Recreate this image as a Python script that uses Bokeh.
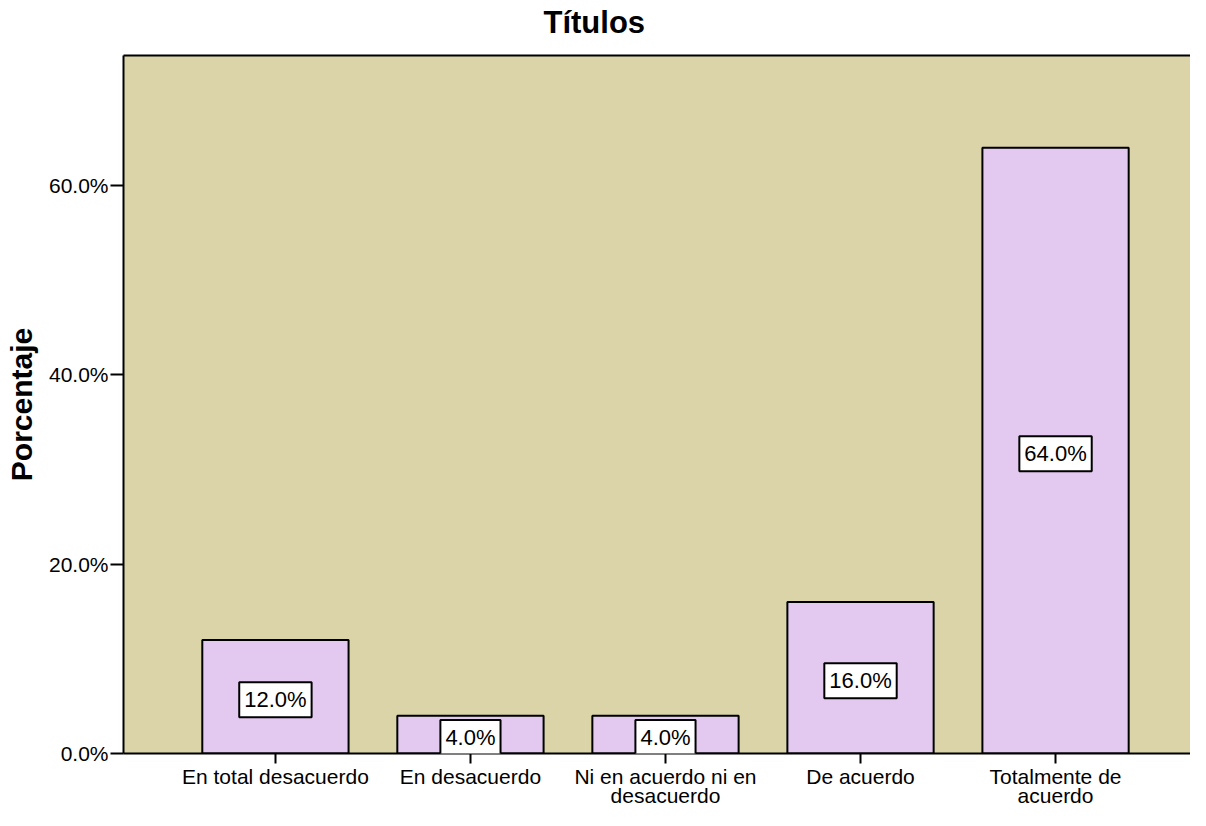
from bokeh.plotting import figure
from bokeh.models import Range1d, FixedTicker, PrintfTickFormatter, LinearAxis, Label, ColumnDataSource
from bokeh.embed import file_html
from bokeh.resources import INLINE

# ---- data ----
title_text = "Títulos"
y_label = "Porcentaje"
categories = ["En total desacuerdo", "En desacuerdo", "Ni en acuerdo ni en desacuerdo",
              "De acuerdo", "Totalmente de acuerdo"]
tick_labels = ["En total desacuerdo", "En desacuerdo", "Ni en acuerdo ni en\ndesacuerdo",
               "De acuerdo", "Totalmente de\nacuerdo"]
values = [12.0, 4.0, 4.0, 16.0, 64.0]
y_ticks = [0, 20, 40, 60]

FONT = "Liberation Sans"
BG = "#DBD4A8"
BAR = "#E3C8F0"

positions = list(range(1, len(categories) + 1))
src = ColumnDataSource(dict(x=positions, top=values, cat=categories))

p = figure(width=1190, height=810, output_backend="svg", toolbar_location=None,
           x_range=Range1d(0.221, 5.692), y_range=Range1d(0, 73.75),
           min_border_left=123, min_border_right=0, min_border_top=55, min_border_bottom=45)

p.background_fill_color = BG
p.border_fill_color = "white"
p.outline_line_color = None
p.xgrid.grid_line_color = None
p.ygrid.grid_line_color = None

p.vbar(x="x", top="top", bottom=0, width=0.75, source=src,
       fill_color=BAR, line_color="black", line_width=2)

# value labels
for x, v in zip(positions, values):
    p.add_layout(Label(x=x, y=v / 2, text=f"{v:.1f}%", text_align="center", text_baseline="middle",
                       text_font=FONT, text_font_size="22px", text_color="black",
                       background_fill_color="white", border_line_color="black",
                       border_line_width=2, padding=5, y_offset=-3))

# x axis
xa = p.xaxis[0]
xa.ticker = FixedTicker(ticks=positions)
xa.major_label_overrides = {pos: lbl for pos, lbl in zip(positions, tick_labels)}
xa.major_tick_out = 10
xa.major_tick_in = 0
xa.minor_tick_line_color = None
xa.axis_line_width = 2
xa.axis_line_color = "black"
xa.major_tick_line_width = 2
xa.major_tick_line_color = "black"
xa.major_label_text_font = FONT
xa.major_label_text_font_size = "21px"
xa.major_label_text_color = "black"
xa.major_label_text_line_height = 0.85
xa.major_label_standoff = 1

# y axis
ya = p.yaxis[0]
ya.ticker = FixedTicker(ticks=y_ticks)
ya.formatter = PrintfTickFormatter(format="%.1f%%")
ya.major_tick_out = 13
ya.major_tick_in = 0
ya.minor_tick_line_color = None
ya.axis_line_width = 2
ya.axis_line_color = "black"
ya.major_tick_line_width = 2
ya.major_tick_line_color = "black"
ya.major_label_text_font = FONT
ya.major_label_text_font_size = "21px"
ya.major_label_text_color = "black"
ya.major_label_standoff = 2
ya.axis_label = y_label
ya.axis_label_text_font = FONT
ya.axis_label_text_font_size = "30px"
ya.axis_label_text_font_style = "bold"
ya.axis_label_text_color = "black"
ya.axis_label_standoff = 8

# top border line (invisible tick only reserves space under the title)
top_axis = LinearAxis(ticker=FixedTicker(ticks=positions[:1]), major_tick_line_color=None,
                      major_tick_out=13, major_tick_in=0, major_label_standoff=0,
                      major_label_overrides={positions[0]: ""},
                      minor_tick_line_color=None, major_label_text_font_size="0px",
                      axis_line_width=2, axis_line_color="black")
p.add_layout(top_axis, "above")

# title
p.title.text = title_text
p.title.text_font = FONT
p.title.text_font_size = "31px"
p.title.text_font_style = "bold"
p.title.text_color = "black"
p.title.align = "left"
p.title.offset = 420
p.title.standoff = 5

open("out.html", "w").write(file_html(p, INLINE))
